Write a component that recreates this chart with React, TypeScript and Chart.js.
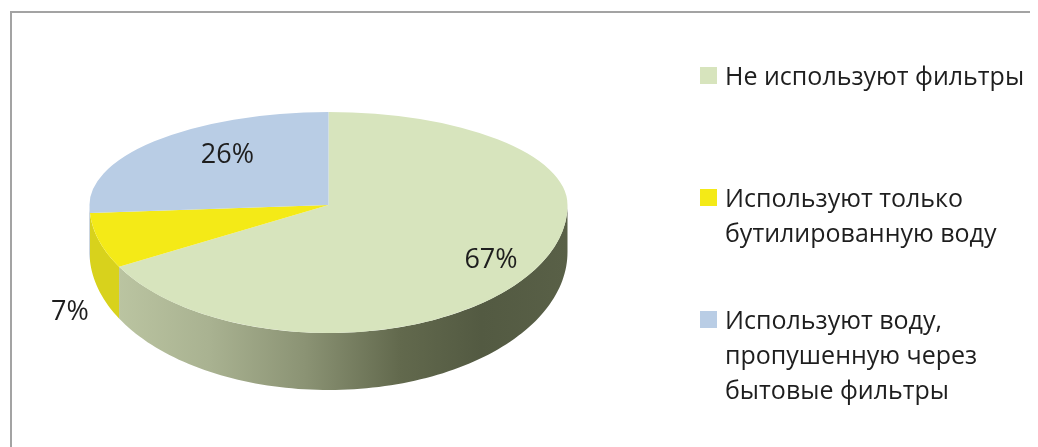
import React, { useEffect, useRef } from "react";
import { Chart, registerables } from "chart.js";

Chart.register(...registerables);

// ---- data ----
const categories = [
  "Не используют фильтры",
  "Используют только бутилированную воду",
  "Используют воду, пропушенную через бытовые фильтры",
];
const legendLines = [
  ["Не используют фильтры"],
  ["Используют только", "бутилированную воду"],
  ["Используют воду,", "пропушенную через", "бытовые фильтры"],
];
const values = [67, 7, 26];
const valueLabels = ["67%", "7%", "26%"];

// ---- styles ----
const topColors = ["#d7e4bd", "#f4ea17", "#b9cde5"];
const sideColors = ["gradient", "#d8d21c", "#95aac7"];
const greenSideStops: [number, string][] = [
  [0, "#c0caa6"],
  [0.25, "#a9b291"],
  [0.45, "#8b9374"],
  [0.65, "#62694d"],
  [0.82, "#535a42"],
  [1, "#596047"],
];
const labelRadius = [0.79, 1.127, 0.58];
const labelDy = [4, 67, -13];

// geometry of the tilted pie (canvas coords)
const APEX = { x: 320.5, y: 197 };
const RX = 239;
const RY_BACK = 93;
const RY_FRONT = 128;
const DEPTH_SIDE = 47;
const DEPTH_FRONT = 57;

const W = 1030;
const H = 439;

function proj(ang: number, f: number, withDepth: boolean) {
  const c = Math.cos(ang);
  const s = Math.sin(ang);
  const ry = s >= 0 ? RY_FRONT : RY_BACK;
  const d = withDepth ? DEPTH_SIDE + (DEPTH_FRONT - DEPTH_SIDE) * Math.max(0, s) : 0;
  return { x: APEX.x + RX * f * c, y: APEX.y + ry * f * s + d };
}

const pie3d = {
  id: "pie3d",
  beforeDatasetDraw(chart: any) {
    const meta = chart.getDatasetMeta(0);
    const arcs = meta.data as any[];
    if (!arcs.length) return false;
    const ctx: CanvasRenderingContext2D = chart.ctx;
    const cx = arcs[0].x;
    const cy = arcs[0].y;
    const R = arcs[0].outerRadius;

    // side walls (front half only)
    arcs.forEach((arc, i) => {
      const lo = Math.max(arc.startAngle, 0);
      const hi = Math.min(arc.endAngle, Math.PI);
      if (hi <= lo) return;
      const steps = Math.max(8, Math.ceil(((hi - lo) / Math.PI) * 120));
      ctx.save();
      ctx.beginPath();
      for (let k = 0; k <= steps; k++) {
        const a = lo + ((hi - lo) * k) / steps;
        const p = proj(a, 1, false);
        if (k === 0) ctx.moveTo(p.x, p.y);
        else ctx.lineTo(p.x, p.y);
      }
      for (let k = steps; k >= 0; k--) {
        const a = lo + ((hi - lo) * k) / steps;
        const p = proj(a, 1, true);
        ctx.lineTo(p.x, p.y);
      }
      ctx.closePath();
      if (sideColors[i] === "gradient") {
        const g = ctx.createLinearGradient(APEX.x - RX, 0, APEX.x + RX, 0);
        greenSideStops.forEach(([t, c]) => g.addColorStop(t, c));
        ctx.fillStyle = g;
      } else {
        ctx.fillStyle = sideColors[i];
      }
      ctx.fill();
      ctx.restore();
    });

    // top face: back half and front half with different vertical scale
    const halves = [
      { y0: 0, y1: APEX.y, ry: RY_BACK },
      { y0: APEX.y, y1: H, ry: RY_FRONT },
    ];
    halves.forEach((h) => {
      ctx.save();
      ctx.beginPath();
      ctx.rect(0, h.y0, W, h.y1 - h.y0);
      ctx.clip();
      ctx.translate(APEX.x, APEX.y);
      ctx.scale(RX / R, h.ry / R);
      ctx.translate(-cx, -cy);
      arcs.forEach((arc) => arc.draw(ctx));
      ctx.restore();
    });

    // value labels
    ctx.save();
    ctx.font = "27px 'Open Sans'";
    ctx.fillStyle = "#1e1e1e";
    ctx.textAlign = "center";
    ctx.textBaseline = "middle";
    arcs.forEach((arc, i) => {
      const mid = (arc.startAngle + arc.endAngle) / 2;
      const p = proj(mid, labelRadius[i], false);
      ctx.fillText(valueLabels[i], p.x, p.y + labelDy[i]);
    });
    ctx.restore();
    return false;
  },
};

export default function App() {
  const ref = useRef<HTMLCanvasElement | null>(null);
  useEffect(() => {
    if (!ref.current) return;
    const chart = new Chart(ref.current, {
      type: "pie",
      data: {
        labels: categories,
        datasets: [
          {
            data: values,
            backgroundColor: topColors,
            borderWidth: 0,
          },
        ],
      },
      options: {
        animation: false,
        responsive: false,
        maintainAspectRatio: false,
        events: [],
        plugins: {
          legend: { display: false },
          tooltip: { enabled: false },
        },
      },
      plugins: [pie3d as any],
    });
    return () => chart.destroy();
  }, []);

  const itemTops = [50, 172, 294];
  return (
    <div
      style={{
        position: "relative",
        width: W,
        height: H,
        overflow: "hidden",
        fontFamily: "'Open Sans', sans-serif",
      }}
    >
      <div
        style={{
          position: "absolute",
          left: 2,
          top: 3,
          width: 1200,
          height: 600,
          borderTop: "2px solid #a3a3a3",
          borderLeft: "2px solid #a3a3a3",
        }}
      />
      <canvas
        ref={ref}
        width={W}
        height={H}
        style={{ position: "absolute", left: 0, top: 0, width: W, height: H }}
      />
      {legendLines.map((lines, i) => (
        <div
          key={i}
          style={{
            position: "absolute",
            left: 717,
            top: itemTops[i],
            fontSize: 25,
            lineHeight: "35px",
            color: "#1e1e1e",
            whiteSpace: "nowrap",
          }}
        >
          <span
            style={{
              position: "absolute",
              left: -25,
              top: 9,
              width: 17,
              height: 17,
              background: topColors[i],
            }}
          />
          {lines.map((l, j) => (
            <div key={j}>{l}</div>
          ))}
        </div>
      ))}
    </div>
  );
}
